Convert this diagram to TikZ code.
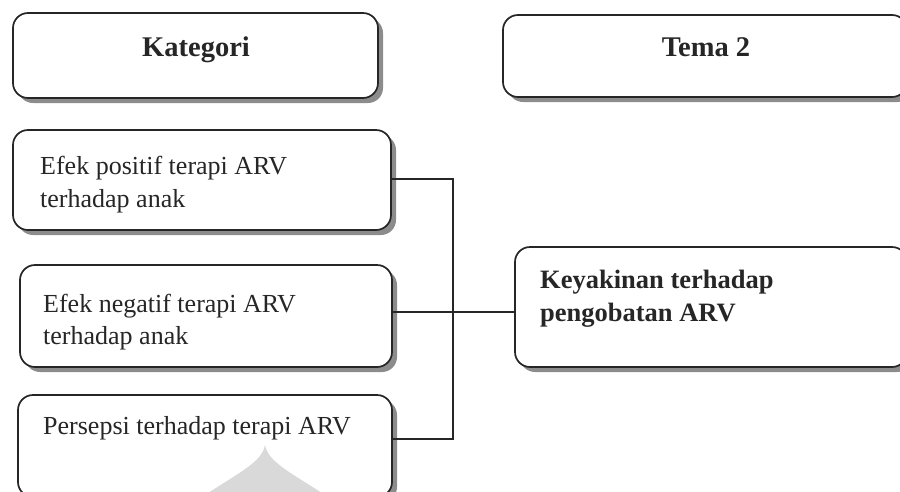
\documentclass[tikz,border=0pt]{standalone}
\usepackage{fontspec}
\setmainfont{Liberation Serif}
\usetikzlibrary{shadows}
\definecolor{ink}{HTML}{262626}
\definecolor{shade}{HTML}{8C8C8C}
\definecolor{blob}{HTML}{D9D9D9}
\begin{document}
\begin{tikzpicture}[x=1pt,y=-1pt,
  card/.style={draw=ink, line width=1.7pt, fill=white, rounded corners=15pt,
    rectangle, anchor=north west, inner sep=0pt, outer sep=0pt,
    drop shadow={shadow xshift=5pt, shadow yshift=-5pt, fill=shade, opacity=1}},
  head/.style={font=\fontsize{28.5}{33}\selectfont\bfseries, text=ink, anchor=base, inner sep=0pt},
  body/.style={font=\fontsize{26}{33}\selectfont, text=ink, anchor=base west, inner sep=0pt},
  bodyb/.style={font=\fontsize{26.5}{33}\selectfont\bfseries, text=ink, anchor=base west, inner sep=0pt},
  wire/.style={draw=ink, line width=1.4pt}]
\clip (0,0) rectangle (900,491);
\useasboundingbox (0,0) rectangle (900,491);
% header boxes
\node[card, minimum width=365pt, minimum height=85pt] (kat) at (13,13) {};
\node[head] (tkat) at (196,56) {Kategori};
\node[card, minimum width=404pt, minimum height=82pt] (tema) at (503,15) {};
\node[head] (ttema) at (706,56) {Tema 2};
% category boxes
\node[card, minimum width=378pt, minimum height=100pt] (pos) at (13,130) {};
\node[body] (tpos1) at (40,174) {Efek positif terapi ARV};
\node[body] (tpos2) at (40,207) {terhadap anak};
\node[card, minimum width=372pt, minimum height=102pt] (neg) at (20,265) {};
\node[body] (tneg1) at (43,312) {Efek negatif terapi ARV};
\node[body] (tneg2) at (43,344) {terhadap anak};
\node[card, minimum width=374pt, minimum height=102pt] (per) at (18,395) {};
\node[body] (tper) at (43,434) {Persepsi terhadap terapi ARV};
\fill[blob] (205,495) .. controls (240,472) and (262,462) .. (265,445)
  .. controls (268,462) and (290,472) .. (325,495) -- cycle;
% theme box
\node[card, minimum width=392pt, minimum height=120pt] (key) at (515,247) {};
\node[bodyb] (tkey1) at (540,288) {Keyakinan terhadap};
\node[bodyb] (tkey2) at (540,321) {pengobatan ARV};
% connectors
\coordinate (j1) at (453,179);
\coordinate (j3) at (453,439);
\coordinate (jm) at (453,312);
\draw[wire] (pos.east |- j1) -- (j1) -- (j3) -- (per.east |- j3);
\draw[wire] (neg.east |- jm) -- (key.west |- jm);
\end{tikzpicture}
\end{document}
